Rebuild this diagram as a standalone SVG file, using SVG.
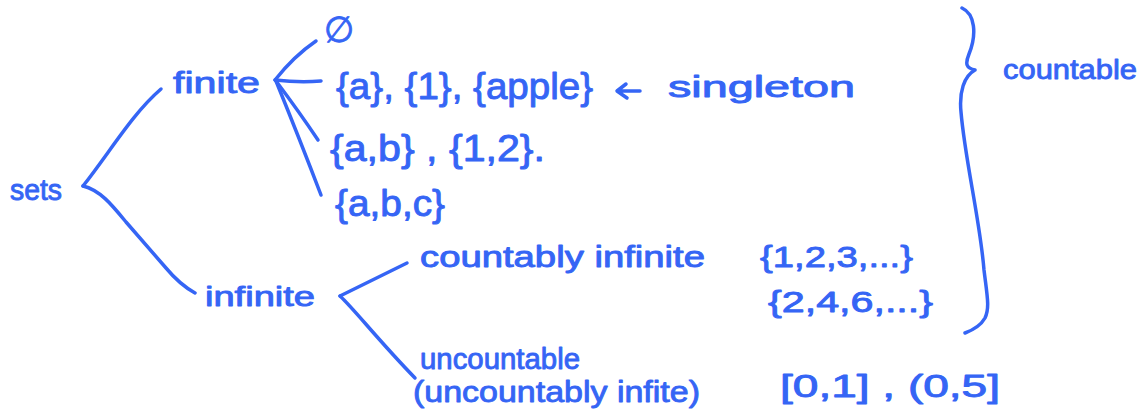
<svg xmlns="http://www.w3.org/2000/svg" width="1145" height="413" viewBox="0 0 1145 413">
<style>
  .t { font-family: "Liberation Sans", "DejaVu Sans", sans-serif; fill: #3565f5; stroke: #3565f5; stroke-width: 0.9; stroke-linejoin: round; }
  .c { fill: none; stroke: #3565f5; stroke-width: 3.5; stroke-linecap: round; stroke-linejoin: round; }
</style>
<rect width="1145" height="413" fill="#ffffff"/>
<g id="connectors">
  <path class="c" d="M83,186 C110,152 132,114 161,89"/>
  <path class="c" d="M83,186 C100,190 112,205 126,222 L166,268 C176,280 186,288 195,293"/>
  <path class="c" d="M275,80 Q294,56 316,41"/>
  <path class="c" d="M275,80 Q300,83 321,81"/>
  <path class="c" d="M276,81 Q300,113 318,140"/>
  <path class="c" d="M276,81 Q300,140 321,195"/>
  <path class="c" d="M340,296 L407,263"/>
  <path class="c" d="M340,296 C355,310 378,340 415,378"/>
  <path class="c" d="M640,91 L618,91 M626,84 L617,91 L627,98"/>
</g>
<g id="sets"><text class="t" x="10" y="200" font-size="30" textLength="52" lengthAdjust="spacingAndGlyphs">sets</text></g>
<g id="finite"><text class="t" x="173" y="93" font-size="30" textLength="87" lengthAdjust="spacingAndGlyphs">finite</text></g>
<g id="infinite"><text class="t" x="205" y="306" font-size="28" textLength="110" lengthAdjust="spacingAndGlyphs">infinite</text></g>
<g id="empty"><text class="t" x="324" y="42" font-size="36" textLength="30" lengthAdjust="spacingAndGlyphs">∅</text></g>
<g id="singletons">
  <text class="t" x="336" y="99" font-size="36" textLength="257" lengthAdjust="spacingAndGlyphs">{a}, {1}, {apple}</text>
  <text class="t" x="668" y="97" font-size="30" textLength="187" lengthAdjust="spacingAndGlyphs">singleton</text>
</g>
<g id="pairs"><text class="t" x="330" y="161" font-size="36" textLength="215" lengthAdjust="spacingAndGlyphs">{a,b} , {1,2}.</text></g>
<g id="triple"><text class="t" x="335" y="216" font-size="36" textLength="110" lengthAdjust="spacingAndGlyphs">{a,b,c}</text></g>
<g id="countably-infinite">
  <text class="t" x="420" y="267" font-size="29" textLength="285" lengthAdjust="spacingAndGlyphs">countably infinite</text>
  <text class="t" x="760" y="267" font-size="30" textLength="153" lengthAdjust="spacingAndGlyphs">{1,2,3,...}</text>
  <text class="t" x="768" y="312" font-size="30" textLength="165" lengthAdjust="spacingAndGlyphs">{2,4,6,...}</text>
</g>
<g id="uncountable">
  <text class="t" x="420" y="369" font-size="30" textLength="160" lengthAdjust="spacingAndGlyphs">uncountable</text>
  <text class="t" x="413" y="402" font-size="30" textLength="287" lengthAdjust="spacingAndGlyphs">(uncountably infite)</text>
  <text class="t" x="780" y="397" font-size="32" textLength="220" lengthAdjust="spacingAndGlyphs">[0,1] , (0,5]</text>
</g>
<g id="countable">
  <path class="c" d="M962,8 C975,14 977,34 969,54 C965,64 966,68 975,70 C964,76 959,92 961,112 C965,160 980,220 984,270 C987,295 990,308 985,318 C981,325 973,330 965,333"/>
  <text class="t" x="1003" y="79" font-size="28" textLength="134" lengthAdjust="spacingAndGlyphs">countable</text>
</g>
</svg>
